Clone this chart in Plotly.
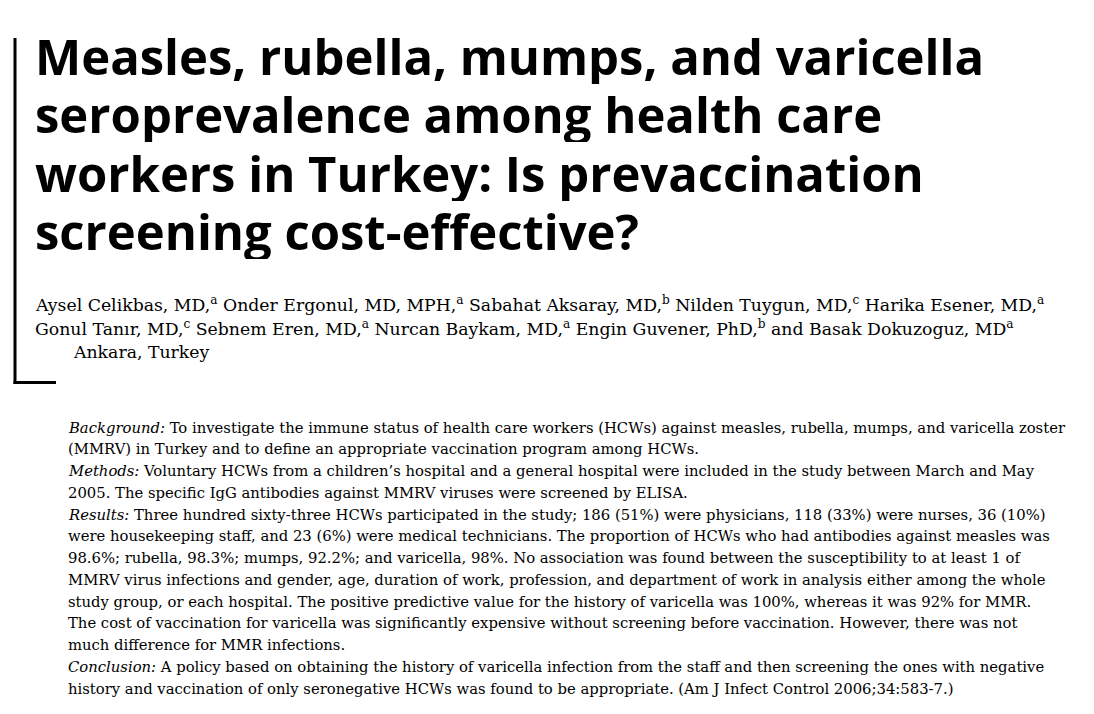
import plotly.graph_objects as go

W, H = 1094, 714
OX, OY = -8, -8  # page body margin compensation

title_lines = [
    "Measles, rubella, mumps, and varicella",
    "seroprevalence among health care",
    "workers in Turkey: Is prevaccination",
    "screening cost-effective?",
]

author_lines = [
    "Aysel Celikbas, MD,<sup>a</sup> Onder Ergonul, MD, MPH,<sup>a</sup> Sabahat Aksaray, MD,<sup>b</sup> Nilden Tuygun, MD,<sup>c</sup> Harika Esener, MD,<sup>a</sup>",
    "Gonul Tanır, MD,<sup>c</sup> Sebnem Eren, MD,<sup>a</sup> Nurcan Baykam, MD,<sup>a</sup> Engin Guvener, PhD,<sup>b</sup> and Basak Dokuzoguz, MD<sup>a</sup>",
    "Ankara, Turkey",
]

abstract_lines = [
    "<i>Background:</i> To investigate the immune status of health care workers (HCWs) against measles, rubella, mumps, and varicella zoster",
    "(MMRV) in Turkey and to define an appropriate vaccination program among HCWs.",
    "<i>Methods:</i> Voluntary HCWs from a children’s hospital and a general hospital were included in the study between March and May",
    "2005. The specific IgG antibodies against MMRV viruses were screened by ELISA.",
    "<i>Results:</i> Three hundred sixty-three HCWs participated in the study; 186 (51%) were physicians, 118 (33%) were nurses, 36 (10%)",
    "were housekeeping staff, and 23 (6%) were medical technicians. The proportion of HCWs who had antibodies against measles was",
    "98.6%; rubella, 98.3%; mumps, 92.2%; and varicella, 98%. No association was found between the susceptibility to at least 1 of",
    "MMRV virus infections and gender, age, duration of work, profession, and department of work in analysis either among the whole",
    "study group, or each hospital. The positive predictive value for the history of varicella was 100%, whereas it was 92% for MMR.",
    "The cost of vaccination for varicella was significantly expensive without screening before vaccination. However, there was not",
    "much difference for MMR infections.",
    "<i>Conclusion:</i> A policy based on obtaining the history of varicella infection from the staff and then screening the ones with negative",
    "history and vaccination of only seronegative HCWs was found to be appropriate. (Am J Infect Control 2006;34:583-7.)",
]

fig = go.Figure()
annotations = []

# Title
for i, t in enumerate(title_lines):
    annotations.append(dict(
        x=33 + OX, y=56 + i * 58.3 + OY, xref="x", yref="y", text="<b>" + t + "</b>",
        showarrow=False, xanchor="left", yanchor="middle", height=56, valign="middle",
        font=dict(family="Open Sans", size=49, color="#000000"),
    ))

# Authors
author_x = [33, 33, 71]
for i, t in enumerate(author_lines):
    annotations.append(dict(
        x=author_x[i] + OX, y=304 + i * 24 + OY, xref="x", yref="y", text=t,
        showarrow=False, xanchor="left", yanchor="middle",
        font=dict(family="DejaVu Serif", size=17.3, color="#000000"),
    ))

# Abstract
for i, t in enumerate(abstract_lines):
    annotations.append(dict(
        x=66 + OX, y=427 + i * 21.75 + OY, xref="x", yref="y", text=t,
        showarrow=False, xanchor="left", yanchor="middle",
        font=dict(family="DejaVu Serif", size=14.8, color="#000000"),
    ))

fig.update_layout(
    width=W, height=H,
    margin=dict(l=0, r=0, t=0, b=0),
    paper_bgcolor="white", plot_bgcolor="white",
    xaxis=dict(range=[0, W], visible=False, fixedrange=True),
    yaxis=dict(range=[H, 0], visible=False, fixedrange=True),
    annotations=annotations,
    shapes=[
        dict(type="line", xref="x", yref="y", x0=15 + OX, x1=15 + OX, y0=38 + OY, y1=384 + OY,
             line=dict(color="black", width=3)),
        dict(type="line", xref="x", yref="y", x0=13.5 + OX, x1=56 + OX, y0=382.5 + OY, y1=382.5 + OY,
             line=dict(color="black", width=3)),
    ],
    showlegend=False,
)

fig.write_html("out.html")
